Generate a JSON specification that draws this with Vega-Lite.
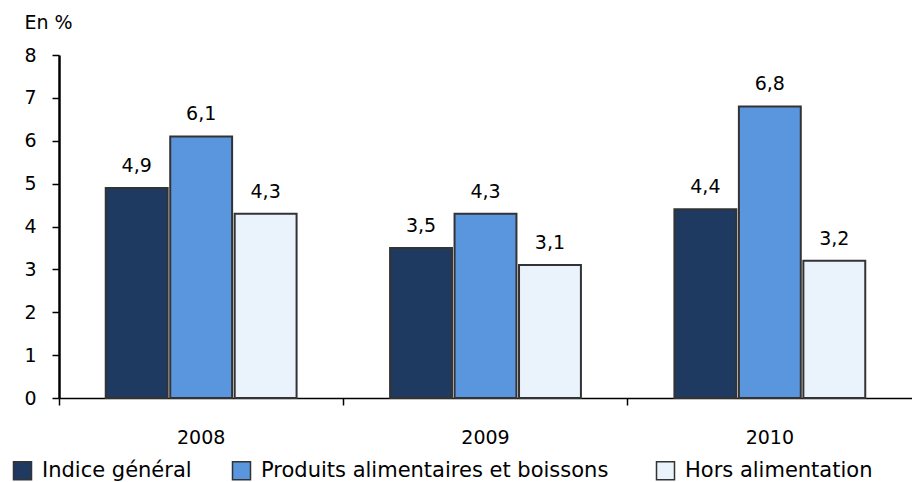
{
  "$schema": "https://vega.github.io/schema/vega-lite/v6.json",
  "width": 853,
  "height": 343,
  "autosize": {"type": "none"},
  "padding": {"left": 59, "top": 55, "right": 0, "bottom": 84},
  "background": "white",
  "config": {
    "locale": {"number": {"decimal": ",", "thousands": " ", "grouping": [3], "currency": ["", " €"]}},
    "font": "DejaVu Sans",
    "view": {"stroke": null},
    "axis": {"labelFont": "DejaVu Sans", "titleFont": "DejaVu Sans", "labelColor": "black", "titleColor": "black", "domainColor": "black", "tickColor": "black", "grid": false}
  },
  "data": {
    "values": [
      {"annee": "2008", "serie": "Indice général", "valeur": 4.9},
      {"annee": "2008", "serie": "Produits alimentaires  et boissons", "valeur": 6.1},
      {"annee": "2008", "serie": "Hors alimentation", "valeur": 4.3},
      {"annee": "2009", "serie": "Indice général", "valeur": 3.5},
      {"annee": "2009", "serie": "Produits alimentaires  et boissons", "valeur": 4.3},
      {"annee": "2009", "serie": "Hors alimentation", "valeur": 3.1},
      {"annee": "2010", "serie": "Indice général", "valeur": 4.4},
      {"annee": "2010", "serie": "Produits alimentaires  et boissons", "valeur": 6.8},
      {"annee": "2010", "serie": "Hors alimentation", "valeur": 3.2}
    ]
  },
  "encoding": {
    "x": {
      "field": "annee", "type": "nominal", "title": null,
      "scale": {"paddingInner": 0, "paddingOuter": 0},
      "axis": {"labelAngle": 0, "labelFontSize": 19, "labelPadding": 23, "bandPosition": 0, "tickSize": 7, "domainWidth": 1.5, "tickWidth": 1.5}
    },
    "xOffset": {
      "field": "serie", "type": "nominal",
      "sort": ["Indice général", "Produits alimentaires  et boissons", "Hors alimentation"],
      "scale": {"paddingInner": 0.04, "paddingOuter": 0.725}
    },
    "y": {
      "field": "valeur", "type": "quantitative",
      "scale": {"domain": [0, 8]},
      "axis": {"values": [0, 1, 2, 3, 4, 5, 6, 7, 8], "format": "d", "labelFontSize": 19, "labelPadding": 16, "tickSize": 7, "domainWidth": 2.5, "tickWidth": 1.5,
        "title": "En %", "titleAngle": 0, "titleAlign": "left", "titleBaseline": "middle", "titleFontSize": 19, "titleFontWeight": "normal", "titleX": -35, "titleY": -33}
    }
  },
  "layer": [
    {
      "mark": {"type": "bar", "stroke": "#333333", "strokeWidth": 2},
      "encoding": {
        "color": {
          "field": "serie", "type": "nominal",
          "sort": ["Indice général", "Produits alimentaires  et boissons", "Hors alimentation"],
          "scale": {"domain": ["Indice général", "Produits alimentaires  et boissons", "Hors alimentation"], "range": ["#1F3A60", "#5A96DE", "#EAF2FC"]},
          "legend": {
            "title": null, "orient": "none", "direction": "horizontal", "legendX": -47, "legendY": 405,
            "symbolType": "square", "symbolSize": 324, "symbolStrokeColor": "#333333", "symbolStrokeWidth": 1.5,
            "labelFontSize": 21, "labelFont": "DejaVu Sans", "labelColor": "black", "columnPadding": 37, "labelLimit": 500, "labelOffset": 9
          }
        }
      }
    },
    {
      "mark": {"type": "text", "baseline": "alphabetic", "dy": -16, "fontSize": 19, "color": "black"},
      "encoding": {
        "text": {"field": "valeur", "type": "quantitative", "format": ".1f"}
      }
    }
  ]
}
